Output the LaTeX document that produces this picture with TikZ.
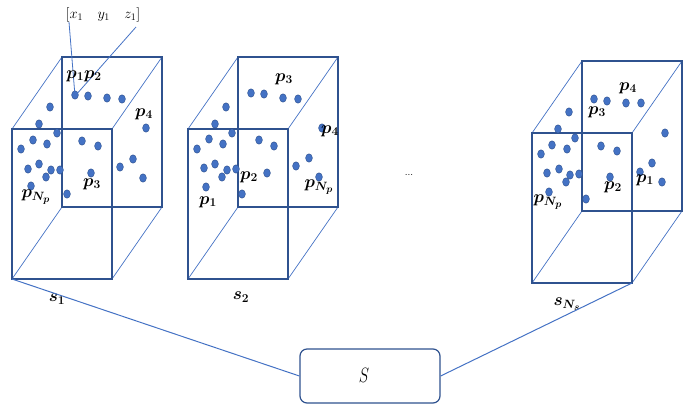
\documentclass[tikz,border=0pt]{standalone}
\usepackage{amsmath,bm}
\usetikzlibrary{calc}
\definecolor{edgeblue}{HTML}{2F528F}
\definecolor{lineblue}{HTML}{4472C4}
\tikzset{
  frontface/.style={draw=edgeblue, line width=1.4pt},
  backface/.style={draw=edgeblue, line width=1.2pt},
  depthline/.style={draw=lineblue, line width=0.7pt},
  link/.style={draw=lineblue, line width=1pt},
  pt/.style={fill=lineblue, draw=edgeblue, line width=0.4pt},
  plabel/.style={inner sep=0pt, font=\fontsize{17.28}{20}\selectfont},
  slabel/.style={inner sep=0pt, font=\fontsize{17.28}{20}\selectfont},
  aggbox/.style={draw=edgeblue, line width=1.2pt, rounded corners=7pt, fill=white,
    minimum width=140pt, minimum height=54pt},
}
% cube: name, front-face left x, top y (front face 100 x 150, depth offset 50,-72)
\newcommand\samplecube[3]{%
  \coordinate (#1tl) at (#2,#3);
  \coordinate (#1tr) at (#2+100,#3);
  \coordinate (#1br) at (#2+100,#3+150);
  \coordinate (#1bl) at (#2,#3+150);
  \foreach \c in {tl,tr,br,bl}{\coordinate (#1b\c) at ($(#1\c)+(50,-72)$);}
  \draw[depthline] (#1tl) -- (#1btl) (#1tr) -- (#1btr) (#1br) -- (#1bbr) (#1bl) -- (#1bbl);
  \draw[backface] (#1btl) rectangle (#1bbr);
  \draw[frontface] (#1tl) rectangle (#1br);
}
\begin{document}
\begin{tikzpicture}[x=1pt,y=-1pt]
\useasboundingbox (0,0) rectangle (685,408);

% the three sample volumes
\samplecube{a}{12}{129}
\samplecube{b}{188}{129}
\samplecube{c}{532}{133}

% points of the first sample
\foreach \x/\y in {75/95,88/96,107/98,122/99,50/107,39/124,57/133,33/140,47/144,21/149,
  82/141,98/146,146/128,133/159,120/167,143/178,39/164,28/169,51/170,46/177,60/170,
  91/173,31/186,67/194}
  \fill[pt] (\x,\y) ellipse (3.4pt and 4.2pt);
% points of the second sample
\foreach \x/\y in {251/93,264/94,283/98,298/99,226/107,215/124,232/133,209/139,223/144,
  197/149,259/140,274/146,322/128,309/158,296/166,319/177,204/168,215/164,227/170,
  222/177,236/169,267/173,206/187,242/194}
  \fill[pt] (\x,\y) ellipse (3.4pt and 4.2pt);
% points of the last sample
\foreach \x/\y in {594/99,607/101,626/103,641/103,569/112,558/129,575/138,552/145,
  567/149,541/154,601/146,617/151,665/133,652/163,640/172,662/182,547/173,559/169,
  570/175,566/182,579/174,610/177,549/192,586/199}
  \fill[pt] (\x,\y) ellipse (3.4pt and 4.2pt);

% coordinates of the first point
\node[plabel, font=\fontsize{14.4}{17}\selectfont] (xyz) at (103,15) {$[x_1\quad y_1\quad z_1]$};
\coordinate (pone) at (75,96);
\draw[link, line width=0.8pt] (69,22) -- (pone);
\draw[link, line width=0.8pt] (136,27) -- (pone);

% point labels
\node[plabel] (a12) at (84,76) {$\bm{p_1 p_2}$};
\node[plabel] (a4) at (144,114) {$\bm{p_4}$};
\node[plabel] (a3) at (92,184) {$\bm{p_3}$};
\node[plabel] (aN) at (36,197) {$\bm{p_{N_p}}$};

\node[plabel] (b3) at (284,79) {$\bm{p_3}$};
\node[plabel] (b4) at (330,131) {$\bm{p_4}$};
\node[plabel] (b2) at (249,177) {$\bm{p_2}$};
\node[plabel] (bN) at (319,187) {$\bm{p_{N_p}}$};
\node[plabel] (b1) at (208,202) {$\bm{p_1}$};

\node[plabel] (c4) at (628,88) {$\bm{p_4}$};
\node[plabel] (c3) at (597,112) {$\bm{p_3}$};
\node[plabel] (c1) at (645,180) {$\bm{p_1}$};
\node[plabel] (c2) at (613,187) {$\bm{p_2}$};
\node[plabel] (cN) at (548,202) {$\bm{p_{N_p}}$};

% sample labels
\node[slabel] (s1) at (57,299) {$\bm{s_1}$};
\node[slabel] (s2) at (241,297) {$\bm{s_2}$};
\node[slabel] (sN) at (567,304) {$\bm{s_{N_s}}$};
\node[inner sep=0pt] (ell) at (409,175) {...};

% the set of samples
\node[aggbox] (S) at (370,376) {};
\node[inner sep=0pt, font=\fontsize{20.74}{24}\selectfont] (Slabel) at (364,375)
  {\scalebox{0.75}[1]{$S$}};
\draw[link] (abl) -- (S.west);
\draw[link] (S.east) -- (cbr);
\end{tikzpicture}
\end{document}
